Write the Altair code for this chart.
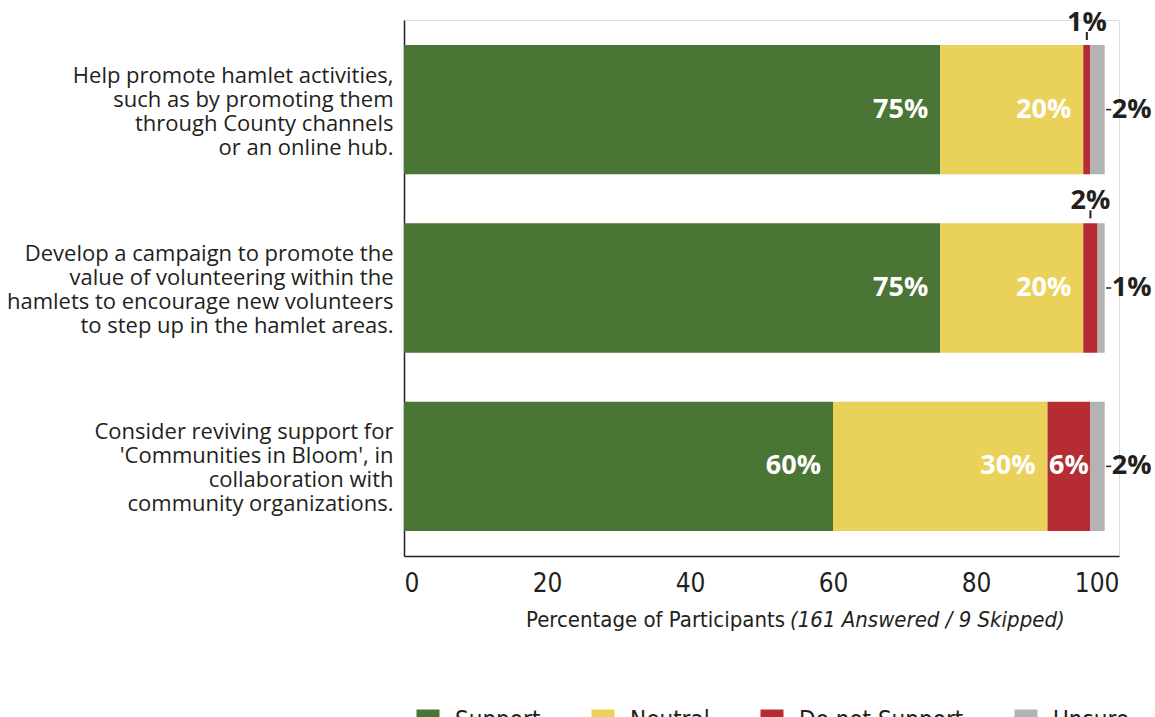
import altair as alt
import pandas as pd

questions = [
    "Help promote hamlet activities,|such as by promoting them|through County channels|or an online hub.",
    "Develop a campaign to promote the|value of volunteering within the|hamlets to encourage new volunteers|to step up in the hamlet areas.",
    "Consider reviving support for|'Communities in Bloom', in|collaboration with |community organizations.",
]
responses = ["Support", "Neutral", "Do not Support", "Unsure"]
support = [75, 75, 60]
neutral = [20, 20, 30]
not_support = [1, 2, 6]
unsure = [2, 1, 2]
colors = ["#4a7535", "#ead25a", "#b52c32", "#b3b3b3"]
ticks_x = [0, 20, 40, 60, 80, 100]

DARK = "#231f20"
NARROW = "Liberation Sans Narrow, DejaVu Sans Condensed, sans-serif"
SANS = "Open Sans"

rows = []
for i, q in enumerate(questions):
    vals = [support[i], neutral[i], not_support[i], unsure[i]]
    start = 0
    for r, v in zip(responses, vals):
        rows.append({"question": q, "response": r, "value": v, "start": start,
                     "end": start + v, "mid": start + v / 2, "label": f"{v}%"})
        start += v
df = pd.DataFrame(rows)

yscale = alt.Scale(paddingInner=0.275, paddingOuter=0.14)
y_main = alt.Y("question:N", sort=questions, scale=yscale,
               axis=alt.Axis(title=None, labelExpr="split(datum.label, '|')", ticks=False,
                             domainColor=DARK, domainWidth=1.5, labelFont=SANS,
                             labelFontSize=22, labelColor=DARK, labelPadding=11,
                             labelLineHeight=24, labelLimit=0, labelAlign="right",
                             labelOffset=-34))
y_plain = alt.Y("question:N", sort=questions, scale=yscale)
y_top = alt.Y("question:N", sort=questions, scale=yscale, bandPosition=0)

xscale = alt.Scale(domain=[0, 100], nice=False)

base = alt.Chart(df)

bars = base.mark_bar().encode(
    x=alt.X("start:Q", scale=xscale,
            axis=alt.Axis(values=ticks_x, ticks=False, grid=False, title=None,
                          labelFont=NARROW, labelFontSize=26, labelPadding=14,
                          labelColor=DARK, domainColor=DARK, domainWidth=1.5)),
    x2="end:Q",
    y=y_main,
    color=alt.Color("response:N", scale=alt.Scale(domain=responses, range=colors),
                    legend=alt.Legend(title=None, orient="none", legendX=12, legendY=689,
                                      direction="horizontal", symbolType="square",
                                      symbolSize=529, symbolStrokeWidth=0,
                                      labelFont=NARROW, labelFontSize=24, labelColor=DARK,
                                      labelLimit=0, labelOffset=15, columnPadding=50,
                                      symbolOpacity=1)),
)

inside_big = base.transform_filter(
    "datum.value >= 10 && datum.response != 'Unsure'"
).mark_text(align="right", dx=-12, baseline="middle", font=SANS, fontWeight="bold",
            fontSize=27, color="white").encode(x=alt.X("end:Q", scale=xscale), y=y_plain, text="label:N")

inside_small = base.transform_filter(
    "datum.value >= 5 && datum.value < 10"
).mark_text(align="center", baseline="middle", font=SANS, fontWeight="bold",
            fontSize=27, color="white").encode(x=alt.X("mid:Q", scale=xscale), y=y_plain, text="label:N")

above_filter = "datum.response == 'Do not Support' && datum.value < 5"
above_text = base.transform_filter(above_filter).mark_text(
    align="center", baseline="alphabetic", dy=-14, font=SANS, fontWeight="bold",
    fontSize=27, color=DARK).encode(x=alt.X("mid:Q", scale=xscale), y=y_top, text="label:N")
above_tick = base.transform_filter(above_filter).mark_point(
    shape="M0,-1L0,1", size=64, filled=False, strokeWidth=2, yOffset=-9,
    color=DARK, opacity=1
).encode(x=alt.X("mid:Q", scale=xscale), y=y_top)

right_filter = "datum.response == 'Unsure'"
right_text = base.transform_filter(right_filter).mark_text(
    align="left", baseline="middle", dx=7, font=SANS, fontWeight="bold",
    fontSize=27, color=DARK).encode(x=alt.X("end:Q", scale=xscale), y=y_plain, text="label:N")
right_tick = base.transform_filter(right_filter).mark_point(
    shape="M-1,0L1,0", size=25, filled=False, strokeWidth=1.5, xOffset=4,
    color=DARK, opacity=1
).encode(x=alt.X("end:Q", scale=xscale), y=y_plain)

title_df = pd.DataFrame({"a": ["Percentage of Participants"], "b": ["(161 Answered / 9 Skipped)"]})
title_a = alt.Chart(title_df).mark_text(align="right", baseline="alphabetic", font=NARROW,
                                        fontSize=22, color=DARK).encode(
    x=alt.value(381), y=alt.value(607), text="a:N")
title_b = alt.Chart(title_df).mark_text(align="left", baseline="alphabetic", font=NARROW,
                                        fontSize=22, fontStyle="italic", color=DARK).encode(
    x=alt.value(386), y=alt.value(607), text="b:N")

chart = alt.layer(bars, inside_big, inside_small, above_text, above_tick, right_text,
                  right_tick, title_a, title_b).properties(
    width=715, height=536,
    padding={"left": 404, "top": 20, "right": 36, "bottom": 180},
    autosize="none",
).configure_view(stroke=None).configure(background="white")

chart.save("out.html", embed_options={"renderer": "svg", "actions": False})
